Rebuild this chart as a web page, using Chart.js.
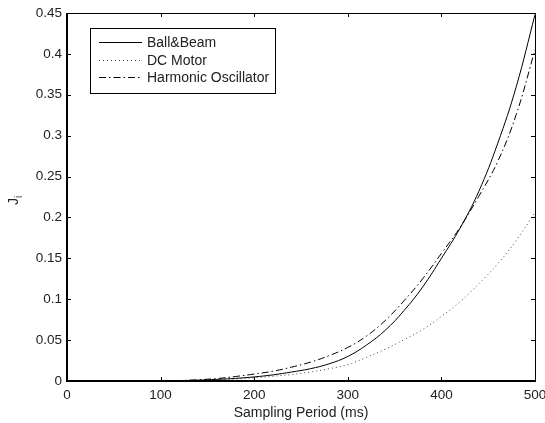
<!DOCTYPE html>
<html>
<head>
<meta charset="utf-8">
<script src="https://cdn.jsdelivr.net/npm/chart.js@4/dist/chart.umd.min.js"></script>
<style>
  html, body { margin: 0; padding: 0; background: #fff; }
  #wrap { width: 545px; height: 423px; }
</style>
</head>
<body>
<div id="wrap"><canvas id="grafico" width="545" height="423"></canvas></div>
<script>
// valores (J_i em função do período de amostragem)
const periodo = [100, 120, 140, 160, 180, 200, 220, 240, 260, 280, 300,
                 320, 340, 360, 380, 400, 420, 440, 460, 480, 500];
const ballBeam = [0, 0.0005, 0.001, 0.002, 0.0032, 0.005, 0.0075, 0.011, 0.015, 0.021, 0.030,
                  0.044, 0.062, 0.086, 0.115, 0.150, 0.187, 0.232, 0.290, 0.360, 0.448];
const dcMotor = [0, 0.0003, 0.0008, 0.0015, 0.0025, 0.004, 0.0058, 0.008, 0.011, 0.015, 0.020,
                 0.029, 0.039, 0.0505, 0.063, 0.079, 0.097, 0.119, 0.143, 0.172, 0.206];
const oscilador = [0, 0.0006, 0.0015, 0.003, 0.0055, 0.0085, 0.012, 0.017, 0.023, 0.031, 0.041,
                   0.055, 0.074, 0.098, 0.125, 0.156, 0.188, 0.226, 0.268, 0.326, 0.405];
const xTicks = [0, 100, 200, 300, 400, 500];
const yTicks = [0, 0.05, 0.1, 0.15, 0.2, 0.25, 0.3, 0.35, 0.4, 0.45];
const legendas = ['Ball&Beam', 'DC Motor', 'Harmonic Oscillator'];

const fonte = 'Liberation Sans, Arial, Helvetica, sans-serif';

function pontos(valores) {
    return periodo.map((p, i) => ({ x: p, y: valores[i] }));
}

// Caixa, marcas internas, título do eixo y e legenda (estilo MATLAB)
const estiloMatlab = {
    id: 'estiloMatlab',
    afterDatasetsDraw(chart) {
        const ctx = chart.ctx;
        const a = chart.chartArea;
        const sx = chart.scales.x, sy = chart.scales.y;
        ctx.save();
        ctx.strokeStyle = '#000';

        // marcas
        ctx.lineWidth = 1;
        const tl = 4;
        ctx.beginPath();
        xTicks.forEach(v => {
            const px = Math.round(sx.getPixelForValue(v)) + 0.5;
            ctx.moveTo(px, a.bottom); ctx.lineTo(px, a.bottom - tl);
            ctx.moveTo(px, a.top); ctx.lineTo(px, a.top + tl);
        });
        yTicks.forEach(v => {
            const py = Math.round(sy.getPixelForValue(v)) + 0.5;
            ctx.moveTo(a.left, py); ctx.lineTo(a.left + tl, py);
            ctx.moveTo(a.right, py); ctx.lineTo(a.right - tl, py);
        });
        ctx.stroke();

        // caixa
        ctx.lineWidth = 1;
        ctx.beginPath();
        ctx.moveTo(a.left, a.top + 0.5); ctx.lineTo(a.right + 0.5, a.top + 0.5);
        ctx.lineTo(a.right + 0.5, a.bottom);
        ctx.stroke();
        ctx.lineWidth = 2;
        ctx.beginPath();
        ctx.moveTo(a.left, a.top); ctx.lineTo(a.left, a.bottom);
        ctx.lineTo(a.right + 1, a.bottom);
        ctx.stroke();

        // título do eixo y: J com índice i
        ctx.fillStyle = '#222';
        ctx.translate(18, 200);
        ctx.rotate(-Math.PI / 2);
        ctx.textBaseline = 'alphabetic';
        ctx.textAlign = 'left';
        ctx.font = '14px ' + fonte;
        ctx.fillText('J', -5, 0);
        ctx.font = '10px ' + fonte;
        ctx.fillText('i', 2, 4);
        ctx.setTransform(1, 0, 0, 1, 0, 0);

        // legenda
        const lx = 90, ly = 28, lw = 185, lh = 65;
        ctx.fillStyle = '#fff';
        ctx.fillRect(lx, ly, lw, lh);
        ctx.lineWidth = 1;
        ctx.strokeStyle = '#000';
        ctx.strokeRect(lx + 0.5, ly + 0.5, lw, lh);
        const linhas = [42, 60, 77];
        chart.data.datasets.forEach((ds, i) => {
            ctx.beginPath();
            ctx.setLineDash(ds.borderDash || []);
            ctx.strokeStyle = ds.borderColor;
            ctx.lineWidth = ds.borderWidth;
            ctx.moveTo(99, linhas[i] + 0.5);
            ctx.lineTo(142, linhas[i] + 0.5);
            ctx.stroke();
            ctx.setLineDash([]);
            ctx.fillStyle = '#222';
            ctx.font = '14px ' + fonte;
            ctx.textBaseline = 'middle';
            ctx.fillText(ds.label, 147, linhas[i] + 1);
        });
        ctx.restore();
    }
};

function criarGrafico() {
    const ctx = document.getElementById('grafico').getContext('2d');
    new Chart(ctx, {
        type: 'line',
        data: {
            datasets: [{
                label: legendas[0],
                data: pontos(ballBeam),
                borderColor: '#000',
                borderWidth: 1,
                pointRadius: 0,
                tension: 0.4,
                fill: false
            }, {
                label: legendas[1],
                data: pontos(dcMotor),
                borderColor: '#444',
                borderWidth: 1,
                borderDash: [1, 3],
                pointRadius: 0,
                tension: 0.4,
                fill: false
            }, {
                label: legendas[2],
                data: pontos(oscilador),
                borderColor: '#000',
                borderWidth: 1,
                borderDash: [7, 3, 1.5, 3],
                pointRadius: 0,
                tension: 0.4,
                fill: false
            }]
        },
        options: {
            responsive: false,
            animation: false,
            devicePixelRatio: 1,
            layout: { padding: { top: 13, right: 10, left: 0, bottom: 0 } },
            plugins: { legend: { display: false }, tooltip: { enabled: false } },
            scales: {
                x: {
                    type: 'linear',
                    min: 0, max: 500,
                    afterBuildTicks: s => { s.ticks = xTicks.map(v => ({ value: v })); },
                    afterFit: s => { s.height = 42; s.paddingLeft = 0; s.paddingRight = 0; },
                    grid: { display: false, drawTicks: false, tickLength: 0 },
                    border: { display: false },
                    ticks: { color: '#222', font: { family: fonte, size: 13.5 }, padding: 6, maxRotation: 0 },
                    title: {
                        display: true,
                        text: 'Sampling Period (ms)',
                        color: '#222',
                        font: { family: fonte, size: 14 },
                        padding: { top: 0, bottom: 1 }
                    }
                },
                y: {
                    type: 'linear',
                    min: 0, max: 0.45,
                    afterBuildTicks: s => { s.ticks = yTicks.map(v => ({ value: v })); },
                    afterFit: s => { s.width = 67; s.paddingTop = 0; s.paddingBottom = 0; },
                    grid: { display: false, drawTicks: false, tickLength: 0 },
                    border: { display: false },
                    ticks: {
                        color: '#222',
                        font: { family: fonte, size: 13.5 },
                        padding: 5,
                        callback: v => String(Number(v.toFixed(2)))
                    }
                }
            }
        },
        plugins: [estiloMatlab]
    });
}

document.addEventListener('DOMContentLoaded', criarGrafico);
</script>
</body>
</html>
